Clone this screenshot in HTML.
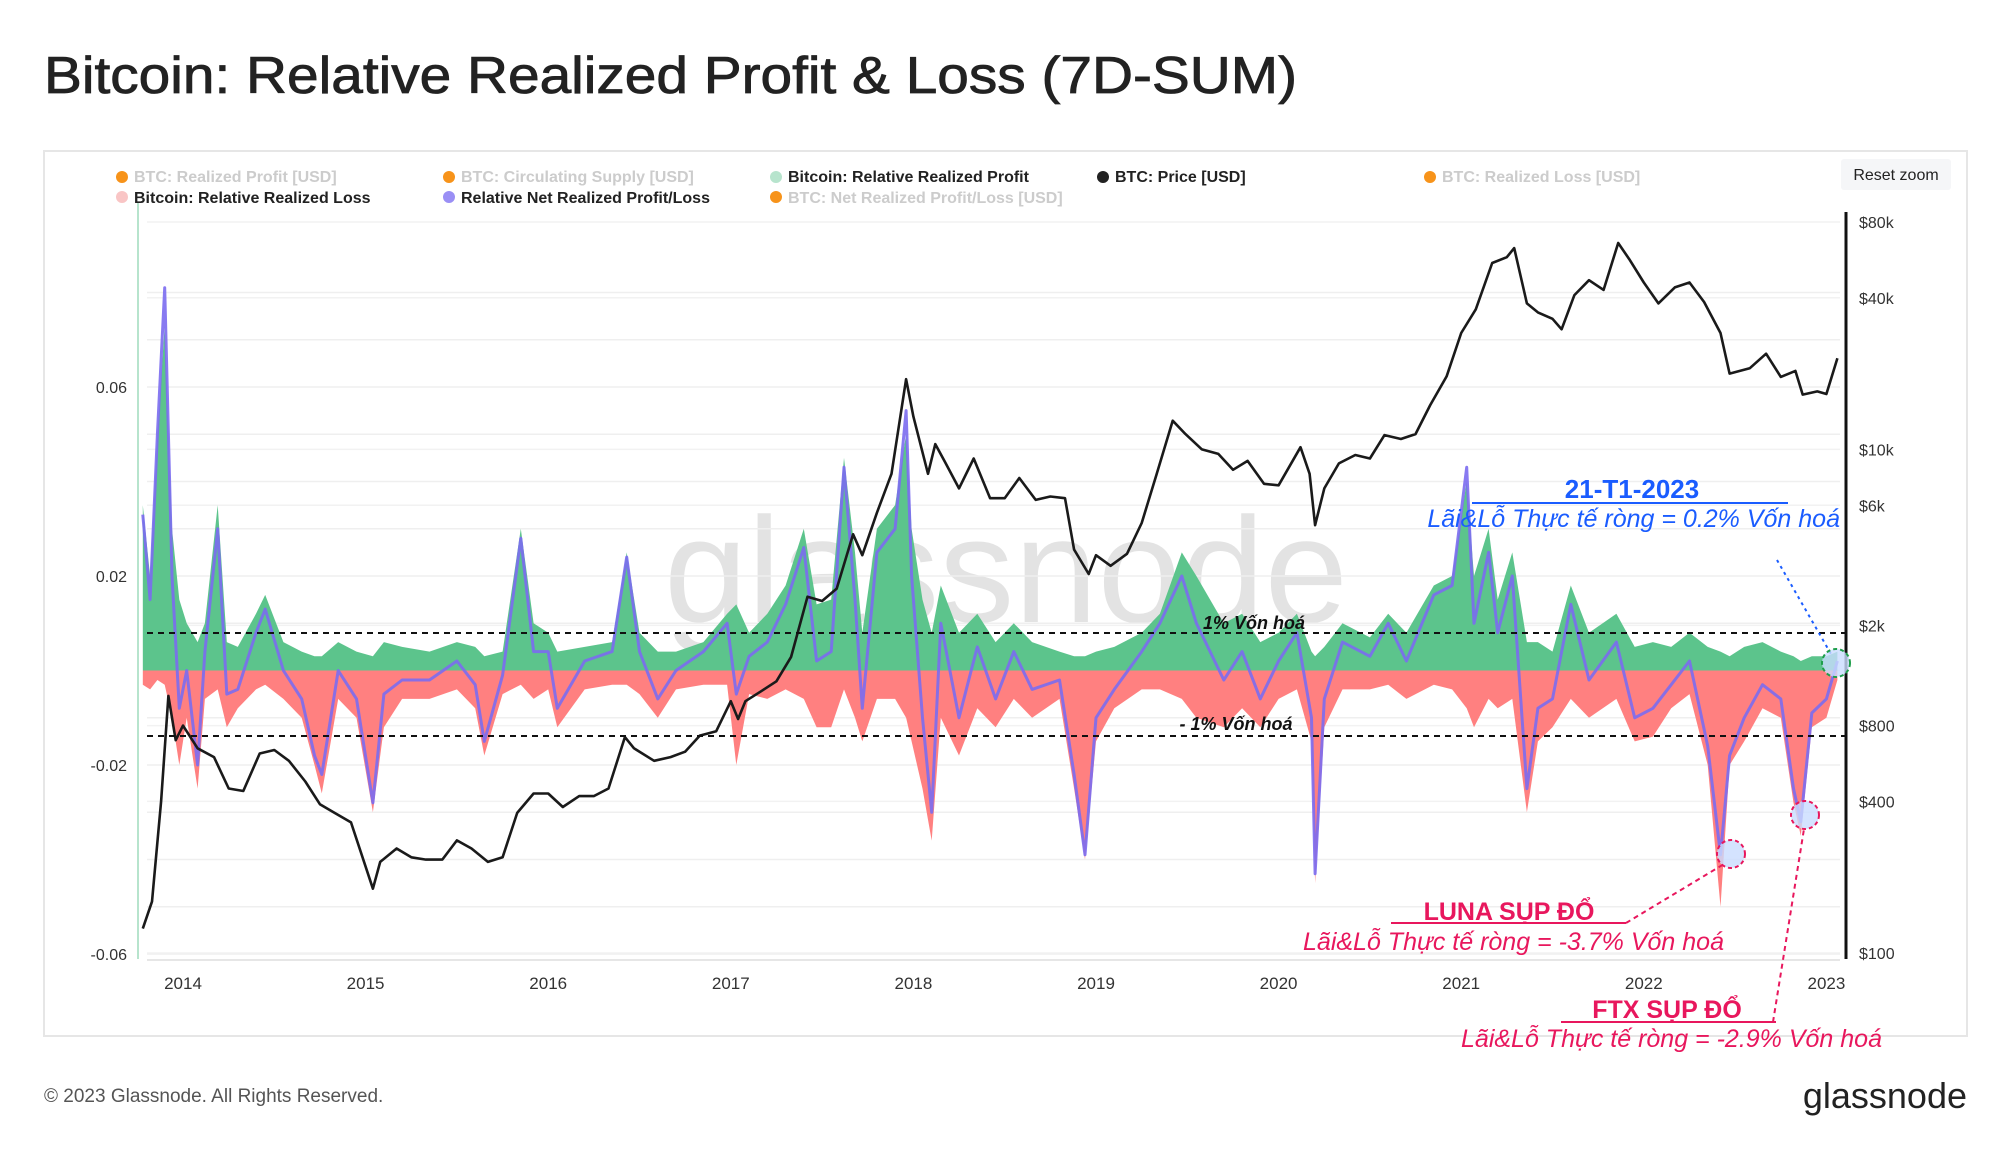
<!DOCTYPE html>
<html><head><meta charset="utf-8"><style>
body{margin:0;background:#fff;}
svg{display:block;font-family:"Liberation Sans","Noto Sans CJK SC",sans-serif;}
</style></head><body>
<svg id="chart" width="2000" height="1152" viewBox="0 0 2000 1152" xmlns="http://www.w3.org/2000/svg">
<text x="44" y="93" font-size="52" fill="#222" stroke="#222" stroke-width="0.8" textLength="1253" lengthAdjust="spacingAndGlyphs">Bitcoin: Relative Realized Profit &amp; Loss (7D-SUM)</text>
<rect x="44" y="151" width="1923" height="885" fill="#fff" stroke="#e6e6e6" stroke-width="2"/>
<g id="legend" font-size="16" font-weight="bold">
<g><circle cx="122" cy="177" r="6" fill="#f7931a"/><text x="134" y="182" fill="#ccc">BTC: Realized Profit [USD]</text></g>
<g><circle cx="449" cy="177" r="6" fill="#f7931a"/><text x="461" y="182" fill="#ccc">BTC: Circulating Supply [USD]</text></g>
<g><circle cx="776" cy="177" r="6" fill="#b7e4cd"/><text x="788" y="182" fill="#222">Bitcoin: Relative Realized Profit</text></g>
<g><circle cx="1103" cy="177" r="6" fill="#222"/><text x="1115" y="182" fill="#222">BTC: Price [USD]</text></g>
<g><circle cx="1430" cy="177" r="6" fill="#f7931a"/><text x="1442" y="182" fill="#ccc">BTC: Realized Loss [USD]</text></g>
<g><circle cx="122" cy="197" r="6" fill="#f9c5c5"/><text x="134" y="203" fill="#222">Bitcoin: Relative Realized Loss</text></g>
<g><circle cx="449" cy="197" r="6" fill="#9a8ff5"/><text x="461" y="203" fill="#222">Relative Net Realized Profit/Loss</text></g>
<g><circle cx="776" cy="197" r="6" fill="#f7931a"/><text x="788" y="203" fill="#ccc">BTC: Net Realized Profit/Loss [USD]</text></g>
</g>
<g><rect x="1841" y="159" width="110" height="31" rx="3" fill="#f5f6f8"/><text x="1896" y="180" font-size="16" text-anchor="middle" fill="#222">Reset zoom</text></g>
<text x="1006" y="622" font-size="150" fill="#ddd" text-anchor="middle" opacity="0.8">glassnode</text>
<g id="grid"></g>
<g id="series"></g>
<g id="axes"></g>
<g id="annot"></g>
<text x="44" y="1102" font-size="19" fill="#555">© 2023 Glassnode. All Rights Reserved.</text>
<text x="1967" y="1108" font-size="36" fill="#222" text-anchor="end">glassnode</text>
</svg>
<script>
const priceDates=[2013.78,2013.83,2013.88,2013.92,2013.96,2014.0,2014.08,2014.17,2014.25,2014.33,2014.42,2014.5,2014.58,2014.67,2014.75,2014.83,2014.92,2015.04,2015.08,2015.17,2015.25,2015.33,2015.42,2015.5,2015.58,2015.67,2015.75,2015.83,2015.92,2016.0,2016.08,2016.17,2016.25,2016.33,2016.42,2016.47,2016.58,2016.67,2016.75,2016.83,2016.92,2017.0,2017.04,2017.08,2017.17,2017.25,2017.33,2017.42,2017.5,2017.58,2017.67,2017.72,2017.8,2017.88,2017.96,2018.0,2018.08,2018.12,2018.17,2018.25,2018.33,2018.42,2018.5,2018.58,2018.67,2018.75,2018.83,2018.88,2018.96,2019.0,2019.08,2019.17,2019.25,2019.33,2019.42,2019.49,2019.58,2019.67,2019.75,2019.83,2019.92,2020.0,2020.12,2020.17,2020.2,2020.25,2020.33,2020.42,2020.5,2020.58,2020.67,2020.75,2020.83,2020.92,2021.0,2021.08,2021.17,2021.25,2021.29,2021.36,2021.42,2021.5,2021.55,2021.62,2021.7,2021.78,2021.86,2021.92,2022.0,2022.08,2022.17,2022.25,2022.33,2022.42,2022.47,2022.58,2022.67,2022.75,2022.83,2022.87,2022.95,2023.0,2023.06];
const priceValues=[125,160,400,1050,700,800,650,600,450,440,620,640,580,480,390,360,330,180,230,260,240,235,235,280,260,230,240,360,430,430,380,420,420,450,720,650,580,600,630,730,760,1000,850,1000,1100,1200,1500,2600,2500,2800,4600,3800,5600,8000,19000,13500,8000,10500,9000,7000,9200,6400,6400,7700,6300,6500,6400,4000,3200,3800,3450,3850,5100,7900,13000,11500,10000,9600,8300,9000,7300,7200,10200,8000,5000,7000,8800,9500,9200,11400,11000,11500,15000,19500,29000,36000,55000,58000,63000,38000,35000,33000,30000,41000,47000,43000,66000,57000,46000,38000,44000,46000,38500,29000,20000,21000,24000,19400,20500,16500,17000,16600,23000];
const pnlDates=[2013.78,2013.82,2013.86,2013.90,2013.94,2013.98,2014.02,2014.08,2014.12,2014.19,2014.24,2014.3,2014.4,2014.45,2014.55,2014.65,2014.72,2014.76,2014.85,2014.95,2015.04,2015.1,2015.2,2015.35,2015.5,2015.6,2015.65,2015.75,2015.85,2015.92,2016.0,2016.05,2016.2,2016.35,2016.43,2016.5,2016.6,2016.7,2016.85,2016.98,2017.03,2017.1,2017.2,2017.3,2017.4,2017.47,2017.55,2017.62,2017.68,2017.72,2017.8,2017.9,2017.96,2017.99,2018.05,2018.1,2018.15,2018.25,2018.35,2018.45,2018.55,2018.65,2018.8,2018.88,2018.94,2019.0,2019.1,2019.25,2019.35,2019.47,2019.55,2019.7,2019.8,2019.9,2020.0,2020.1,2020.18,2020.2,2020.25,2020.35,2020.5,2020.6,2020.7,2020.85,2020.95,2021.03,2021.07,2021.15,2021.2,2021.28,2021.36,2021.42,2021.5,2021.6,2021.7,2021.85,2021.95,2022.05,2022.15,2022.25,2022.35,2022.42,2022.47,2022.55,2022.65,2022.75,2022.82,2022.86,2022.92,2023.0,2023.06];
const profitValues=[0.035,0.02,0.05,0.073,0.03,0.015,0.01,0.006,0.01,0.035,0.006,0.005,0.012,0.016,0.006,0.004,0.003,0.003,0.006,0.004,0.003,0.006,0.005,0.004,0.006,0.005,0.003,0.004,0.03,0.01,0.008,0.004,0.005,0.006,0.025,0.008,0.004,0.004,0.006,0.012,0.014,0.008,0.012,0.018,0.03,0.014,0.015,0.045,0.025,0.008,0.03,0.035,0.05,0.03,0.015,0.008,0.018,0.008,0.012,0.006,0.01,0.006,0.004,0.003,0.003,0.004,0.005,0.008,0.012,0.025,0.02,0.01,0.012,0.006,0.008,0.012,0.004,0.003,0.005,0.01,0.007,0.012,0.008,0.018,0.02,0.04,0.02,0.03,0.015,0.025,0.006,0.006,0.004,0.018,0.008,0.012,0.005,0.006,0.005,0.008,0.005,0.004,0.003,0.005,0.006,0.004,0.003,0.002,0.003,0.003,0.004];
const lossValues=[-0.003,-0.004,-0.002,-0.003,-0.01,-0.02,-0.01,-0.025,-0.006,-0.004,-0.012,-0.008,-0.004,-0.003,-0.006,-0.01,-0.02,-0.026,-0.006,-0.01,-0.03,-0.012,-0.006,-0.006,-0.004,-0.008,-0.018,-0.005,-0.003,-0.006,-0.004,-0.012,-0.004,-0.003,-0.003,-0.005,-0.01,-0.004,-0.003,-0.003,-0.02,-0.005,-0.006,-0.004,-0.006,-0.012,-0.012,-0.004,-0.01,-0.015,-0.006,-0.006,-0.01,-0.015,-0.025,-0.036,-0.01,-0.018,-0.008,-0.012,-0.006,-0.01,-0.006,-0.025,-0.04,-0.015,-0.008,-0.004,-0.004,-0.006,-0.01,-0.012,-0.008,-0.012,-0.006,-0.004,-0.015,-0.045,-0.012,-0.004,-0.004,-0.003,-0.006,-0.003,-0.004,-0.008,-0.012,-0.006,-0.008,-0.006,-0.03,-0.015,-0.012,-0.006,-0.01,-0.006,-0.015,-0.014,-0.008,-0.005,-0.02,-0.05,-0.02,-0.015,-0.008,-0.01,-0.028,-0.035,-0.012,-0.01,-0.002];
const netValues=[0.033,0.015,0.05,0.081,0.02,-0.008,0.0,-0.02,0.004,0.03,-0.005,-0.004,0.008,0.013,0.0,-0.006,-0.018,-0.022,0.0,-0.006,-0.028,-0.005,-0.002,-0.002,0.002,-0.003,-0.015,-0.001,0.028,0.004,0.004,-0.008,0.002,0.004,0.024,0.004,-0.006,0.0,0.004,0.01,-0.005,0.003,0.006,0.014,0.026,0.002,0.004,0.043,0.015,-0.008,0.025,0.03,0.055,0.02,-0.01,-0.03,0.01,-0.01,0.005,-0.006,0.004,-0.004,-0.002,-0.022,-0.039,-0.01,-0.004,0.004,0.01,0.02,0.01,-0.002,0.004,-0.006,0.002,0.008,-0.01,-0.043,-0.006,0.006,0.003,0.01,0.002,0.016,0.018,0.043,0.01,0.025,0.008,0.02,-0.025,-0.008,-0.006,0.014,-0.002,0.006,-0.01,-0.008,-0.003,0.002,-0.016,-0.039,-0.018,-0.01,-0.003,-0.006,-0.025,-0.032,-0.009,-0.006,0.002];
const leftTicks=[0.06,0.02,-0.02,-0.06];
const rightTicks=[80000,40000,10000,6000,2000,800,400,100];
const rightTickLabels=["$80k","$40k","$10k","$6k","$2k","$800","$400","$100"];
const yearTicks=[2014,2015,2016,2017,2018,2019,2020,2021,2022,2023];

const NS="http://www.w3.org/2000/svg";
const xOf=t=>183+(t-2014)*182.6;
const yL=v=>670.5-v*4725;
const yR=p=>953-(Math.log10(p)-2)*251.8;
function mk(tag,attrs,parent){const e=document.createElementNS(NS,tag);for(const k in attrs)e.setAttribute(k,attrs[k]);parent.appendChild(e);return e;}
const grid=document.getElementById('grid'),series=document.getElementById('series'),axes=document.getElementById('axes'),annot=document.getElementById('annot');
for(let v=-0.06;v<=0.081;v+=0.01){const l=mk('line',{x1:147,x2:1840,y1:yL(v),y2:yL(v),stroke:'#efefef','stroke-width':1.5},grid);

}
rightTicks.forEach(p=>{const l=mk('line',{x1:147,x2:1840,y1:yR(p),y2:yR(p),stroke:'#f2f2f2','stroke-width':1.5},grid);

});
function area(vals,fill,name){let d='M'+xOf(pnlDates[0])+','+yL(0);pnlDates.forEach((t,i)=>{d+=' L'+xOf(t).toFixed(1)+','+yL(vals[i]).toFixed(1);});d+=' L'+xOf(pnlDates[pnlDates.length-1])+','+yL(0)+'Z';const p=mk('path',{d:d,fill:fill},series);

}
area(profitValues,'#5cc48c','relative-realized-profit-area');
area(lossValues,'#ff8080','relative-realized-loss-area');
const net=mk('polyline',{points:pnlDates.map((t,i)=>xOf(t).toFixed(1)+','+yL(netValues[i]).toFixed(1)).join(' '),fill:'none',stroke:'#7b6cf0','stroke-width':3,'stroke-linejoin':'round',opacity:0.9},series);


const pr=mk('polyline',{points:priceDates.map((t,i)=>xOf(t).toFixed(1)+','+yR(priceValues[i]).toFixed(1)).join(' '),fill:'none',stroke:'#1a1a1a','stroke-width':2.6,'stroke-linejoin':'round'},series);


[[633,'one-percent-line'],[736,'minus-one-percent-line']].forEach(([y,n])=>{const l=mk('line',{x1:147,x2:1846,y1:y,y2:y,stroke:'#111','stroke-width':2,'stroke-dasharray':'6,5'},axes);

});
const la=mk('line',{x1:138,x2:138,y1:203,y2:959,stroke:'#b7e4cd','stroke-width':2},axes);


const ra=mk('line',{x1:1846,x2:1846,y1:212,y2:959,stroke:'#111','stroke-width':3},axes);


const xa=mk('line',{x1:147,x2:1840,y1:960,y2:960,stroke:'#ddd','stroke-width':1.5},axes);


leftTicks.forEach(v=>{const t=mk('text',{x:127,y:yL(v)+6,'font-size':16,fill:'#333','text-anchor':'end'},axes);t.textContent=v.toFixed(2);

});
rightTicks.forEach((p,i)=>{const t=mk('text',{x:1859,y:yR(p)+6,'font-size':16,fill:'#333'},axes);t.textContent=rightTickLabels[i];

});
yearTicks.forEach(y=>{const t=mk('text',{x:xOf(y),y:989,'font-size':17,fill:'#333','text-anchor':'middle'},axes);t.textContent=y;

});
</script>
<script>
(function(){
const a=document.getElementById('annot');
a.innerHTML=`
<text x="1254" y="629" font-size="18" font-weight="bold" font-style="italic" fill="#111" text-anchor="middle">1% Vốn hoá</text>
<text x="1236" y="730" font-size="18" font-weight="bold" font-style="italic" fill="#111" text-anchor="middle">- 1% Vốn hoá</text>
<g>
<text x="1632" y="498" font-size="26" font-weight="bold" fill="#1a5cff" text-anchor="middle">21-T1-2023</text>
<line x1="1472" y1="503" x2="1788" y2="503" stroke="#1a5cff" stroke-width="2"/>
<text x="1840" y="527" font-size="25" font-style="italic" fill="#1a5cff" text-anchor="end">Lãi&amp;Lỗ Thực tế ròng = 0.2% Vốn hoá</text>
<line x1="1777" y1="560" x2="1831" y2="654" stroke="#1a5cff" stroke-width="2" stroke-dasharray="3,4"/>
<circle cx="1836" cy="663" r="14" fill="#c9dcff" fill-opacity="0.8" stroke="#1e9e4a" stroke-width="2" stroke-dasharray="4,3"/>
</g>
<g>
<circle cx="1731" cy="854" r="14" fill="#c9dcff" fill-opacity="0.8" stroke="#e8175d" stroke-width="2" stroke-dasharray="4,3"/>
<line x1="1626" y1="923" x2="1724" y2="864" stroke="#e8175d" stroke-width="2" stroke-dasharray="5,4"/>
<text x="1509" y="920" font-size="25" font-weight="bold" fill="#e8175d" text-anchor="middle">LUNA SỤP ĐỔ</text>
<line x1="1391" y1="923" x2="1626" y2="923" stroke="#e8175d" stroke-width="2"/>
<text x="1724" y="950" font-size="25" font-style="italic" fill="#e8175d" text-anchor="end">Lãi&amp;Lỗ Thực tế ròng = -3.7% Vốn hoá</text>
</g>
<g>
<circle cx="1805" cy="815" r="14" fill="#c9dcff" fill-opacity="0.8" stroke="#e8175d" stroke-width="2" stroke-dasharray="4,3"/>
<line x1="1773" y1="1022" x2="1804" y2="829" stroke="#e8175d" stroke-width="2" stroke-dasharray="5,4"/>
<text x="1667" y="1018" font-size="25" font-weight="bold" fill="#e8175d" text-anchor="middle">FTX SỤP ĐỔ</text>
<line x1="1561" y1="1022" x2="1776" y2="1022" stroke="#e8175d" stroke-width="2"/>
<text x="1882" y="1047" font-size="25" font-style="italic" fill="#e8175d" text-anchor="end">Lãi&amp;Lỗ Thực tế ròng = -2.9% Vốn hoá</text>
</g>`;
})();
</script>
</body></html>
